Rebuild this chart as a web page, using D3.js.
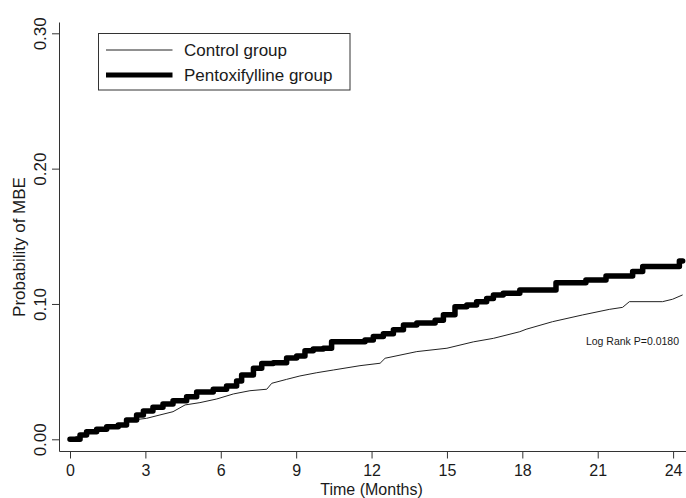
<!DOCTYPE html>
<html>
<head>
<meta charset="utf-8">
<script src="https://cdn.jsdelivr.net/npm/d3@7"></script>
<style>
  body { margin: 0; background: #fff; }
  svg { display: block; font-family: "Liberation Sans", Arial, sans-serif; }
  .axis path { display: none; }
  .axis line { stroke: #333; }
  .axis text { fill: #1a1a1a; font-size: 17px; }
  .x-axis text { font-size: 16px; }
</style>
</head>
<body>
<div id="chart"></div>
<script>
// Cumulative probability of MBE (months, probability)
var pentoTime = [0, 0.4, 0.66, 1.06, 1.46, 1.92, 2.25, 2.65, 2.92, 3.3, 3.7, 4.1, 4.64, 5.04,
  5.7, 6.23, 6.63, 6.83, 7.3, 7.63, 8.09, 8.62, 9.02, 9.35, 9.68, 10.08, 10.41, 11.74, 12.07,
  12.47, 12.87, 13.27, 13.8, 14.53, 14.86, 15.32, 15.79, 16.18, 16.58, 16.85, 17.24, 17.9,
  19.34, 20.53, 21.33, 22.39, 22.79, 24.25, 24.38];
var pentoProb = [0, 0.0032, 0.0056, 0.0074, 0.0093, 0.0106, 0.0143, 0.018, 0.0209, 0.0237, 0.026,
  0.0285, 0.0315, 0.035, 0.037, 0.0394, 0.043, 0.0475, 0.0525, 0.056, 0.0566, 0.06, 0.0615,
  0.0655, 0.0667, 0.0673, 0.072, 0.0734, 0.076, 0.078, 0.081, 0.0845, 0.086, 0.088, 0.092,
  0.098, 0.0993, 0.1017, 0.104, 0.1067, 0.108, 0.1104, 0.1157, 0.1177, 0.1207, 0.1239,
  0.1276, 0.1318, 0.1318];

var ctrlTime = [0, 0.4, 0.66, 1.06, 1.46, 1.92, 2.25, 2.52, 3.05, 3.58, 4.1, 4.58, 5.17, 5.84,
  6.5, 7.16, 7.83, 8.03, 8.62, 9.15, 9.82, 10.48, 11.54, 12.34, 12.54, 13.8, 15.0, 16.05,
  16.85, 17.9, 18.15, 19.2, 20.4, 21.46, 21.99, 22.26, 23.58, 23.98, 24.38];
var ctrlProb = [0, 0.003, 0.005, 0.007, 0.0088, 0.0102, 0.0125, 0.0143, 0.0155, 0.018, 0.0204,
  0.0254, 0.0271, 0.0298, 0.0335, 0.0359, 0.037, 0.0414, 0.0443, 0.0468, 0.0492, 0.0512,
  0.0544, 0.0562, 0.0599, 0.0648, 0.0673, 0.072, 0.0746, 0.0795, 0.0813, 0.0869, 0.0919,
  0.096, 0.0975, 0.1017, 0.1017, 0.1035, 0.1067];

var xTicks = [0, 3, 6, 9, 12, 15, 18, 21, 24];
var yTicks = [0, 0.10, 0.20, 0.30];
var groups = ["Control group", "Pentoxifylline group"];
var pValueLabel = "Log Rank P=0.0180";

var width = 686, height = 498;

var svg = d3.select("#chart").append("svg")
    .attr("width", width)
    .attr("height", height);

// Scales
var x = d3.scaleLinear().domain([0, 24]).range([70, 673.1]);
var y = d3.scaleLinear().domain([0, 0.30]).range([439.3, 33.3]);

// L-shaped frame
svg.append("line")
    .attr("x1", 59.5).attr("x2", 59.5)
    .attr("y1", 22.5).attr("y2", 451.5)
    .attr("stroke", "#333");
svg.append("line")
    .attr("x1", 59.5).attr("x2", width)
    .attr("y1", 451.5).attr("y2", 451.5)
    .attr("stroke", "#333");

// X axis
svg.append("g")
    .attr("class", "axis x-axis")
    .attr("transform", "translate(0,451.5)")
    .call(d3.axisBottom(x).tickValues(xTicks).tickSize(7).tickPadding(6)
      .tickFormat(d3.format("d")));

// Y axis with rotated labels
var yAxis = svg.append("g")
    .attr("class", "axis")
    .attr("transform", "translate(59.5,0)")
    .call(d3.axisLeft(y).tickValues(yTicks).tickSize(7.5).tickFormat(d3.format(".2f")));
yAxis.selectAll("text")
    .attr("x", 0)
    .attr("y", -14)
    .attr("dy", null)
    .attr("text-anchor", "middle")
    .attr("transform", "rotate(-90)");

// Axis titles
svg.append("text")
    .attr("x", x(12))
    .attr("y", 494.5)
    .attr("text-anchor", "middle")
    .attr("font-size", 16)
    .attr("fill", "#1a1a1a")
    .text("Time (Months)");
svg.append("text")
    .attr("transform", "translate(25,247) rotate(-90)")
    .attr("text-anchor", "middle")
    .attr("font-size", 17)
    .attr("fill", "#1a1a1a")
    .text("Probability of MBE");

// Curves
var stepLine = d3.line()
    .x(function(d) { return x(d[0]); })
    .y(function(d) { return y(d[1]); })
    .curve(d3.curveStepAfter);
var smoothLine = d3.line()
    .x(function(d) { return x(d[0]); })
    .y(function(d) { return y(d[1]); });

svg.append("path")
    .datum(d3.zip(ctrlTime, ctrlProb))
    .attr("fill", "none")
    .attr("stroke", "#222")
    .attr("stroke-width", 1)
    .attr("d", smoothLine);

svg.append("path")
    .datum(d3.zip(pentoTime, pentoProb))
    .attr("fill", "none")
    .attr("stroke", "#000")
    .attr("stroke-width", 5.5)
    .attr("stroke-linejoin", "round")
    .attr("stroke-linecap", "round")
    .attr("d", stepLine);

// Legend
var legend = svg.append("g").attr("transform", "translate(98.5,33.5)");
legend.append("rect")
    .attr("width", 251.5)
    .attr("height", 56.5)
    .attr("fill", "#fff")
    .attr("stroke", "#333");
legend.selectAll(".legend-line")
    .data(groups)
    .enter()
      .append("line")
        .attr("x1", 7.5).attr("x2", 74)
        .attr("y1", function(d, i) { return 16.5 + i * 25; })
        .attr("y2", function(d, i) { return 16.5 + i * 25; })
        .attr("stroke", function(d, i) { return i ? "#000" : "#222"; })
        .attr("stroke-width", function(d, i) { return i ? 5 : 1; });
legend.selectAll(".legend-label")
    .data(groups)
    .enter()
      .append("text")
        .attr("x", 85.5)
        .attr("y", function(d, i) { return 22 + i * 25; })
        .attr("font-size", 17)
        .attr("fill", "#1a1a1a")
        .text(function(d) { return d; });

// Test annotation
svg.append("text")
    .attr("x", 679)
    .attr("y", 345)
    .attr("text-anchor", "end")
    .attr("font-size", 10.5)
    .attr("fill", "#1a1a1a")
    .text(pValueLabel);
</script>
</body>
</html>
